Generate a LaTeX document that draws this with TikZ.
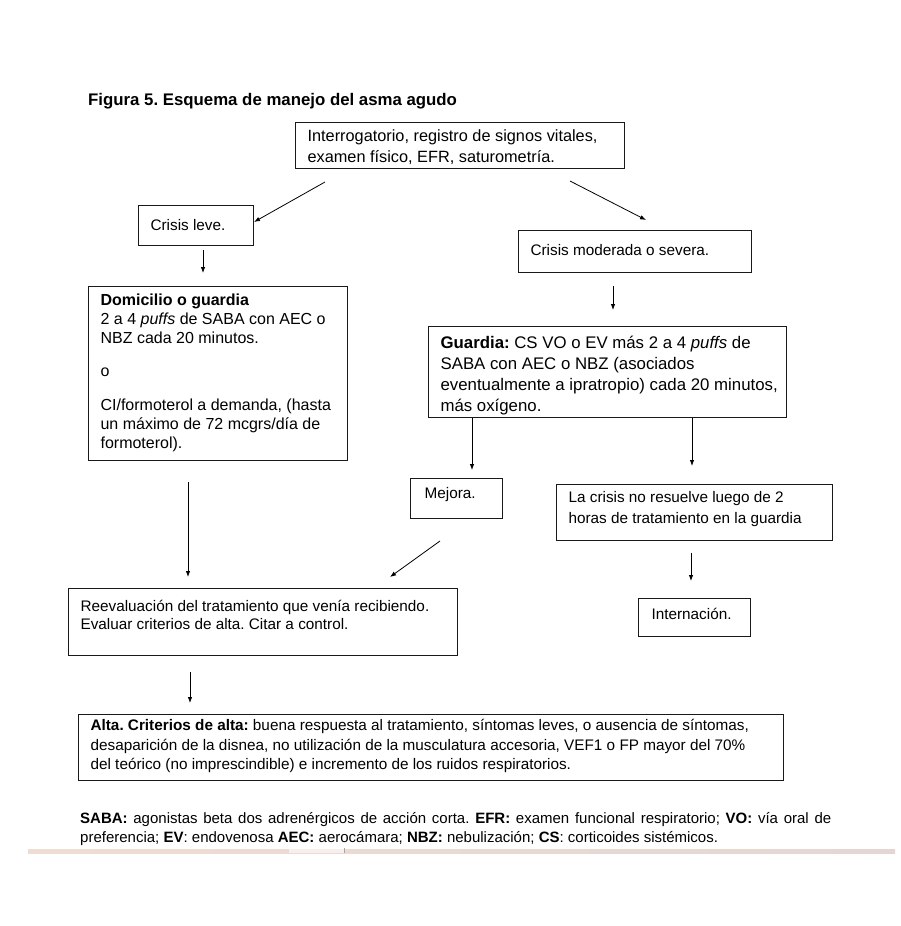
\documentclass[tikz,border=0pt]{standalone}
\usepackage{fontspec}
\setmainfont{Liberation Sans}
\usetikzlibrary{arrows.meta}
\frenchspacing
\newcommand{\tbx}[5]{\parbox[t][#2][t]{#1}{\raggedright\leftskip=#3\relax\rule{0pt}{#4}#5}}
\definecolor{bandL}{HTML}{EEDDD4}
\definecolor{bandR}{HTML}{E4D6D3}
\definecolor{bandGap}{HTML}{F6EFEB}
\begin{document}
\begin{tikzpicture}[x=1pt,y=-1pt,
  bx/.style={draw=black!90,line width=1.2pt,inner sep=0pt,anchor=north west},
  arr/.style={line width=0.8pt,-{Latex[length=6pt,width=4.5pt]}},
  txt/.style={font=\fontsize{15.3}{19}\selectfont}]
\useasboundingbox (0,0) rectangle (900,926);
\fill[white] (0,0) rectangle (900,926);
% title
\node[anchor=base west,inner sep=0pt,font=\bfseries\fontsize{16.8}{19}\selectfont] (title) at (88,105) {Figura 5. Esquema de manejo del asma agudo};
% boxes
\node[bx,font=\fontsize{16.3}{21}\selectfont] (top) at (295,122) {\tbx{329pt}{46pt}{12pt}{19pt}{Interrogatorio, registro de signos vitales,\\examen físico, EFR, saturometría.}};
\node[bx,txt] (leve) at (138,205) {\tbx{115pt}{40pt}{12pt}{25pt}{Crisis leve.}};
\node[bx,font=\fontsize{16}{19}\selectfont] (dom) at (88,286) {\tbx{259pt}{174pt}{12pt}{19pt}{\textbf{Domicilio o guardia}\\2 a 4 \textit{puffs} de SABA con AEC o\\NBZ cada 20 minutos.\\[14pt]o\\[15pt]CI/formoterol a demanda, (hasta\\un máximo de 72 mcgrs/día de\\formoterol).}};
\node[bx,txt] (mod) at (518,230) {\tbx{233pt}{42pt}{12pt}{25pt}{Crisis moderada o severa.}};
\node[bx,font=\fontsize{16.8}{21}\selectfont] (guardia) at (428,326) {\tbx{358pt}{91pt}{12pt}{22pt}{\textbf{Guardia:} CS VO o EV más 2 a 4 \textit{puffs} de\\SABA con AEC o NBZ (asociados\\eventualmente a ipratropio) cada 20 minutos,\\más oxígeno.}};
\node[bx,txt] (mejora) at (410,478) {\tbx{92pt}{40pt}{14pt}{20pt}{Mejora.}};
\node[bx,font=\fontsize{15.3}{21}\selectfont] (nores) at (556,484) {\tbx{276pt}{56pt}{12pt}{18pt}{La crisis no resuelve luego de 2\\horas de tratamiento en la guardia}};
\node[bx,font=\fontsize{15.3}{18}\selectfont] (reev) at (68,588) {\tbx{389pt}{67pt}{12pt}{23pt}{Reevaluación del tratamiento que venía recibiendo.\\Evaluar criterios de alta. Citar a control.}};
\node[bx,txt] (intern) at (638,598) {\tbx{112pt}{38pt}{13pt}{21pt}{Internación.}};
\node[bx,font=\fontsize{15.3}{19.5}\selectfont] (alta) at (78,714) {\tbx{705pt}{66pt}{12pt}{16pt}{\textbf{Alta. Criterios de alta:} buena respuesta al tratamiento, síntomas leves, o ausencia de síntomas,\\desaparición de la disnea, no utilización de la musculatura accesoria, VEF1 o FP mayor del 70\%\\del teórico (no imprescindible) e incremento de los ruidos respiratorios.}};
% legend
\node[anchor=north west,inner sep=0pt,font=\fontsize{15}{19}\selectfont] (legend) at (80,808) {\parbox[t]{751pt}{\rule{0pt}{15pt}\textbf{SABA:} agonistas beta dos adrenérgicos de acción corta. \textbf{EFR:} examen funcional respiratorio; \textbf{VO:} vía oral de\linebreak preferencia; \textbf{EV}: endovenosa \textbf{AEC:} aerocámara; \textbf{NBZ:} nebulización; \textbf{CS}: corticoides sistémicos.}};
% arrow end points
\coordinate (a1s) at (325,182); \coordinate (a1e) at (254,222);
\coordinate (a2s) at (570,181); \coordinate (a2e) at (646,220);
\coordinate (a3s) at (203,250); \coordinate (a3e) at (203,273);
\coordinate (a4s) at (613,286); \coordinate (a4e) at (613,310);
\coordinate (a5e) at (472,470);
\coordinate (a6e) at (692,466);
\coordinate (a7s) at (188,482); \coordinate (a7e) at (188,577);
\coordinate (a8s) at (440,541); \coordinate (a8e) at (390,577);
\coordinate (a9s) at (691,553); \coordinate (a9e) at (691,581);
\coordinate (a10s) at (190,672); \coordinate (a10e) at (190,703);
\draw[arr] (a1s) -- (a1e);
\draw[arr] (a2s) -- (a2e);
\draw[arr] (a3s) -- (a3e);
\draw[arr] (a4s) -- (a4e);
\draw[arr] (guardia.south -| a5e) -- (a5e);
\draw[arr] (guardia.south -| a6e) -- (a6e);
\draw[arr] (a7s) -- (a7e);
\draw[arr] (a8s) -- (a8e);
\draw[arr] (a9s) -- (a9e);
\draw[arr] (a10s) -- (a10e);
% bottom band
\shade[left color=bandL,right color=bandR] (28,849) rectangle (895,853);
\fill[bandGap] (289,849) rectangle (344,853);
\draw[black!35,line width=0.6pt] (344.5,848) -- (344.5,853);
\end{tikzpicture}
\end{document}
